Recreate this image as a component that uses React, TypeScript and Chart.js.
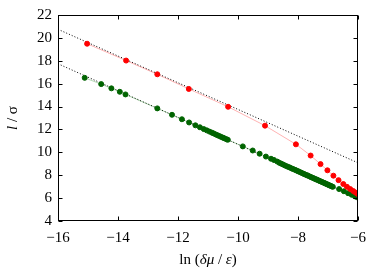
import React, { useEffect, useRef } from "react";
import { Chart, registerables } from "chart.js";

Chart.register(...registerables);

const xTickValues = [-16, -14, -12, -10, -8, -6];
const yTickValues = [4, 6, 8, 10, 12, 14, 16, 18, 20, 22];

const redX = [-15.03, -13.73, -12.69, -11.64, -10.33, -9.1, -8.07, -7.58, -7.25, -7.02, -6.82, -6.65, -6.49, -6.37, -6.26, -6.16, -6.08, -6.01];
const redY = [19.49, 18.02, 16.82, 15.54, 13.98, 12.33, 10.7, 9.72, 8.97, 8.43, 7.96, 7.57, 7.23, 6.99, 6.79, 6.62, 6.48, 6.36];

const greenX = [
  -15.11, -14.56, -14.22, -13.94, -13.75, -12.69, -12.2, -11.87, -11.63, -11.42,
  -11.27, -11.14, -11.04, -10.95, -10.87, -10.81, -10.74, -10.68, -10.62, -10.56, -10.5, -10.45, -10.38, -10.34,
  -9.84, -9.51, -9.28, -9.07, -8.9, -8.8, -8.69,
  -8.62, -8.56, -8.5, -8.44, -8.38, -8.32, -8.27, -8.21, -8.16, -8.1, -8.05, -8.0, -7.95, -7.9, -7.85, -7.8, -7.75, -7.7, -7.66, -7.61,
  -7.57, -7.52, -7.48, -7.44, -7.4, -7.36, -7.32, -7.28, -7.24, -7.2, -7.16, -7.12, -7.09, -7.05, -7.01, -6.98, -6.94, -6.91, -6.87, -6.84,
  -6.63, -6.47, -6.33, -6.21, -6.1, -6.02,
];
const greenY = [
  16.51, 15.96, 15.59, 15.29, 15.06, 13.84, 13.28, 12.89, 12.61, 12.36,
  12.19, 12.03, 11.92, 11.81, 11.72, 11.65, 11.56, 11.49, 11.42, 11.35, 11.28, 11.22, 11.14, 11.1,
  10.52, 10.16, 9.88, 9.63, 9.44, 9.33, 9.19,
  9.08, 9.01, 8.94, 8.86, 8.79, 8.72, 8.67, 8.59, 8.54, 8.47, 8.41, 8.35, 8.29, 8.23, 8.17, 8.11, 8.05, 8.0, 7.95, 7.89,
  7.84, 7.78, 7.74, 7.69, 7.64, 7.6, 7.55, 7.5, 7.46, 7.41, 7.36, 7.32, 7.28, 7.23, 7.19, 7.15, 7.1, 7.07, 7.02, 6.99,
  6.79, 6.6, 6.43, 6.29, 6.15, 6.06,
];

const fitUpperX = [-16, -6];
const fitUpperY = [20.75, 9.08];
const fitLowerX = [-16, -6];
const fitLowerY = [17.74, 6.0];

const FONT = '"Liberation Serif", "Times New Roman", serif';

const toPoints = (xs: number[], ys: number[]) => xs.map((x, i) => ({ x, y: ys[i] }));
const fmt = (v: number | string) => String(v).replace("-", "\u2212");

const framePlugin = {
  id: "frame",
  afterDraw(chart: any) {
    const ctx = chart.ctx;
    const { left, right, top, bottom } = chart.chartArea;
    const xs = chart.scales.x;
    const ys = chart.scales.y;
    ctx.save();
    ctx.strokeStyle = "#000";
    ctx.lineWidth = 1;
    const L = Math.round(left) + 0.5;
    const R = Math.round(right) - 0.5;
    const T = Math.round(top) + 0.5;
    const B = Math.round(bottom) - 0.5;
    ctx.strokeRect(L, T, R - L, B - T);
    const tl = 4;
    ctx.beginPath();
    xTickValues.forEach((v) => {
      const p = Math.round(xs.getPixelForValue(v)) + 0.5;
      ctx.moveTo(p, B);
      ctx.lineTo(p, B - tl);
      ctx.moveTo(p, T);
      ctx.lineTo(p, T + tl);
    });
    yTickValues.forEach((v) => {
      const p = Math.round(ys.getPixelForValue(v)) + 0.5;
      ctx.moveTo(L, p);
      ctx.lineTo(L + tl, p);
      ctx.moveTo(R, p);
      ctx.lineTo(R - tl, p);
    });
    ctx.stroke();

    // titles with mixed styles
    const drawSegments = (segs: [string, boolean][], cx: number, cy: number) => {
      let w = 0;
      segs.forEach(([t, it]) => {
        ctx.font = `${it ? "italic " : ""}15px ${FONT}`;
        w += ctx.measureText(t).width;
      });
      let x = cx - w / 2;
      ctx.textBaseline = "alphabetic";
      ctx.textAlign = "left";
      ctx.fillStyle = "#000";
      segs.forEach(([t, it]) => {
        ctx.font = `${it ? "italic " : ""}15px ${FONT}`;
        ctx.fillText(t, x, cy);
        x += ctx.measureText(t).width;
      });
    };
    const cxPlot = (left + right) / 2;
    drawSegments(
      [
        ["ln (", false],
        ["\u03B4\u03BC", true],
        [" / ", false],
        ["\u03B5", true],
        [")", false],
      ],
      cxPlot,
      264
    );
    ctx.save();
    ctx.translate(16.5, (top + bottom) / 2);
    ctx.rotate(-Math.PI / 2);
    drawSegments(
      [
        ["l", true],
        [" / ", false],
        ["\u03C3", false],
      ],
      0,
      0
    );
    ctx.restore();
    ctx.restore();
  },
};

export default function App() {
  const ref = useRef<HTMLCanvasElement | null>(null);
  useEffect(() => {
    if (!ref.current) return;
    const chart = new Chart(ref.current, {
      type: "scatter",
      data: {
        datasets: [
          {
            data: toPoints(redX, redY),
            showLine: true,
            borderColor: "rgba(255,0,0,0.3)",
            borderWidth: 1,
            pointBackgroundColor: "#ff0000",
            pointBorderColor: "#ff0000",
            pointRadius: 2.5,
            pointBorderWidth: 1,
          },
          {
            data: toPoints(greenX, greenY),
            showLine: true,
            borderColor: "rgba(0,120,0,0.3)",
            borderWidth: 1,
            pointBackgroundColor: "#006400",
            pointBorderColor: "#006400",
            pointRadius: 2.5,
            pointBorderWidth: 1,
          },
          {
            data: toPoints(fitUpperX, fitUpperY),
            showLine: true,
            borderColor: "#000",
            borderWidth: 1,
            borderDash: [1, 2],
            pointRadius: 0,
          },
          {
            data: toPoints(fitLowerX, fitLowerY),
            showLine: true,
            borderColor: "#000",
            borderWidth: 1,
            borderDash: [1, 2],
            pointRadius: 0,
          },
        ],
      },
      options: {
        animation: false,
        responsive: false,
        devicePixelRatio: 1,
        events: [],
        layout: { padding: { left: 0, right: 9, top: 5, bottom: 0 } },
        plugins: { legend: { display: false }, tooltip: { enabled: false } },
        scales: {
          x: {
            type: "linear",
            min: -16,
            max: -6,
            afterFit: (s: any) => {
              s.height = 48;
            },
            afterBuildTicks: (s: any) => {
              s.ticks = xTickValues.map((v) => ({ value: v }));
            },
            grid: { display: false, drawTicks: false },
            border: { display: false },
            ticks: {
              color: "#000",
              padding: 8,
              font: { family: FONT, size: 15 },
              callback: (v: any) => fmt(v),
              maxRotation: 0,
            },
          },
          y: {
            type: "linear",
            min: 4,
            max: 22,
            afterFit: (s: any) => {
              s.width = 58;
            },
            afterBuildTicks: (s: any) => {
              s.ticks = yTickValues.map((v) => ({ value: v }));
            },
            grid: { display: false, drawTicks: false },
            border: { display: false },
            ticks: {
              color: "#000",
              padding: 6,
              font: { family: FONT, size: 15 },
              callback: (v: any) => fmt(v),
            },
          },
        },
      },
      plugins: [framePlugin],
    });
    return () => chart.destroy();
  }, []);
  return (
    <div style={{ position: "fixed", left: 0, top: 0, width: 374, height: 269, background: "#fff" }}>
      <canvas ref={ref} width={374} height={269} style={{ width: 374, height: 269, display: "block" }} />
    </div>
  );
}
